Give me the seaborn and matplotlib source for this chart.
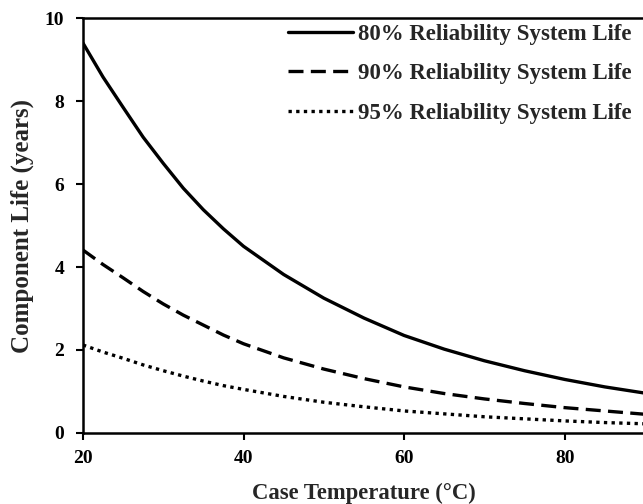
import numpy as np
import pandas as pd
import matplotlib
matplotlib.use("Agg")
import matplotlib.pyplot as plt
import seaborn as sns

# valores
temperatura = [20, 22.5, 25, 27.5, 30, 32.5, 35, 37.5, 40, 45, 50, 55, 60, 65, 70, 75, 80, 85, 90]
vida_80 = [9.4, 8.58, 7.85, 7.13, 6.5, 5.9, 5.38, 4.92, 4.5, 3.82, 3.25, 2.77, 2.35, 2.02, 1.74, 1.5, 1.29, 1.11, 0.96]
vida_90 = [4.41, 4.06, 3.74, 3.41, 3.11, 2.84, 2.6, 2.36, 2.15, 1.81, 1.54, 1.31, 1.11, 0.95, 0.82, 0.71, 0.61, 0.53, 0.45]
vida_95 = [2.12, 1.95, 1.8, 1.64, 1.5, 1.37, 1.25, 1.14, 1.05, 0.88, 0.74, 0.63, 0.53, 0.46, 0.39, 0.34, 0.29, 0.25, 0.22]
rotulos = ["80% Reliability System Life", "90% Reliability System Life", "95% Reliability System Life"]

sns.set_style("white")
plt.rcParams['font.family'] = ['Liberation Serif', 'DejaVu Serif']
plt.rcParams['font.weight'] = 'bold'
plt.rcParams['axes.labelweight'] = 'bold'

n = len(temperatura)
df = pd.DataFrame({
    'temp': temperatura * 3,
    'vida': vida_80 + vida_90 + vida_95,
    'serie': [rotulos[0]] * n + [rotulos[1]] * n + [rotulos[2]] * n,
})

fig = plt.figure(figsize=(6.43, 5.04), dpi=100)
ax = fig.add_axes([0.129, 0.141, 0.874, 0.823])

tracos = {rotulos[0]: "", rotulos[1]: (4.5, 2.2), rotulos[2]: (1, 1.3)}
sns.lineplot(data=df, x='temp', y='vida', style='serie', dashes=tracos,
             color='black', linewidth=2.4, ax=ax)

ax.set_xlim(20, 90)
ax.set_ylim(0, 10)
ax.set_xticks([20, 40, 60, 80])
ax.set_yticks([0, 2, 4, 6, 8, 10])
ax.set_xlabel('Case Temperature (°C)', fontsize=16.3, fontweight='bold', labelpad=12)
ax.set_ylabel('Component Life (years)', fontsize=18, fontweight='bold', labelpad=7.5)
ax.tick_params(axis='both', labelsize=14, length=5, width=1.5, direction='out',
               bottom=True, left=True, colors='black')
ax.tick_params(axis='y', pad=8.5)
ax.tick_params(axis='x', pad=7)
for lbl in ax.get_xticklabels() + ax.get_yticklabels():
    lbl.set_fontweight('bold')

for lado in ['left', 'bottom', 'top']:
    ax.spines[lado].set_linewidth(1.8)
    ax.spines[lado].set_color('black')
ax.spines['right'].set_visible(False)

handles, labels = ax.get_legend_handles_labels()
ax.legend(handles, labels, loc='upper right', bbox_to_anchor=(1.013, 1.036),
          frameon=False, prop={'weight': 'bold', 'size': 16.5},
          handlelength=2.85, handletextpad=0.22, labelspacing=0.8)

plt.savefig('out.png', dpi=100)
